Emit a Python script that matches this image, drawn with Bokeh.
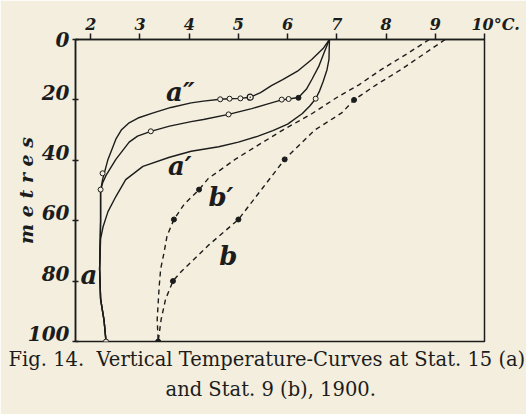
from bokeh.plotting import figure
from bokeh.models import Range1d, FixedTicker, LinearAxis, LabelSet, ColumnDataSource, Title
from bokeh.core.properties import value
from bokeh.embed import file_html
from bokeh.resources import INLINE

# ---------------- data (temperature °C, depth m) ----------------
x_ticks = [2, 3, 4, 5, 6, 7, 8, 9, 10]
x_tick_labels = ["2", "3", "4", "5", "6", "7", "8", "9", "\u00a0\u00a0\u00a0\u00a010°C."]
y_ticks = [0, 20, 40, 60, 80, 100]
y_tick_labels = ["0", "20", "40", "60", "80", "100"]

# Stat. 15 (a), three solid curves
a2_temp = [6.85, 6.72, 6.49, 6.2, 5.9, 5.67, 5.45, 5.24, 5.04, 4.82, 4.63, 4.29, 4.04, 3.63, 3.27,
           2.96, 2.78, 2.62, 2.51, 2.35, 2.24, 2.2, 2.2, 2.18, 2.2, 2.27, 2.31]
a2_depth = [0, 3, 6.6, 10.5, 13.3, 15.3, 17.6, 19.1, 19.5, 19.6, 19.8, 20.4, 21.0, 22.5, 24.3,
            26, 27.6, 30, 33, 39.7, 46.4, 50, 60, 76, 86, 93, 100]

a_temp = [6.85, 6.75, 6.63, 6.5, 6.38, 6.22, 6.02, 5.88, 5.6, 5.27, 4.8, 4.29, 4.04, 3.6, 3.22,
          2.95, 2.78, 2.51, 2.31, 2.24, 2.2, 2.2, 2.18, 2.2, 2.27, 2.31]
a_depth = [0, 4, 9, 13, 16.5, 19.2, 19.7, 20.0, 21.3, 22.9, 24.8, 26.5, 27.2, 28.7, 30.4,
           32, 34, 39.7, 45, 47.5, 50, 60, 76, 86, 93, 100]

a1_temp = [6.85, 6.84, 6.8, 6.72, 6.65, 6.57, 6.45, 6.3, 6.0, 5.7, 5.4, 5.0, 4.6, 4.04, 3.6,
           3.06, 2.71, 2.51, 2.35, 2.25, 2.2, 2.18, 2.2, 2.27, 2.31]
a1_depth = [0, 6.6, 10, 14, 17, 19.6, 22, 24.5, 28, 30.2, 32, 34, 35.5, 37, 39,
            42, 46.4, 52, 57, 62, 66, 76, 86, 93, 100]

# Stat. 9 (b), two dashed curves
b1_temp = [8.88, 8.4, 7.9, 7.45, 7.0, 6.5, 5.9, 5.4, 4.95, 4.65, 4.39, 4.2, 3.9, 3.69, 3.55,
           3.49, 3.42, 3.39, 3.35, 3.37]
b1_depth = [0, 5, 10, 15, 19.2, 24.5, 30, 35, 39.5, 43, 46, 49.7, 54.5, 59.6, 65,
            70.5, 76, 81.8, 92.7, 100]

b_temp = [9.2, 8.75, 8.3, 7.8, 7.35, 7.1, 6.55, 5.94, 5.5, 5.0, 4.4, 3.84, 3.67, 3.52, 3.43, 3.37]
b_depth = [0, 5, 10, 15, 20, 24.3, 30, 39.7, 49, 59.6, 68, 76.8, 80, 86, 92.7, 100]

# observation marks
open_temp = [4.63, 4.82, 5.04, 5.88, 6.02, 6.57, 4.8, 3.22, 2.24, 2.2, 2.31]
open_depth = [19.8, 19.6, 19.5, 19.9, 19.7, 19.6, 24.8, 30.4, 44.3, 49.7, 100]
ring_dot_temp = [5.24]
ring_dot_depth = [19.1]
dot_temp = [6.22, 7.35, 5.94, 5.0, 3.67, 3.37, 4.2, 3.69]
dot_depth = [19.3, 20, 39.7, 59.6, 80, 100, 49.7, 59.6]

curve_labels = ["a″", "a′", "b′", "b", "a"]
curve_label_temp = [3.53, 3.57, 4.39, 4.61, 1.79]
curve_label_depth = [20.2, 45.0, 55.0, 74.8, 80.8]

axis_title = "m e t r e s"
caption_1 = "Fig. 14.\u00a0 Vertical Temperature-Curves at Stat. 15 (a)"
caption_2 = "and Stat. 9 (b), 1900."

# ---------------- styling ----------------
paper = "#f3eedd"
ink = "#1c1c1c"
FONT = "DejaVu Serif"
LABEL_LIFT = 2.6  # depth labels sit just above their ticks (in metres)

p = figure(width=526, height=414, output_backend="svg", toolbar_location=None,
           x_range=Range1d(1.69, 10.0), y_range=Range1d(100, 0),
           x_axis_location="above",
           min_border_left=75, min_border_right=42, min_border_top=39, min_border_bottom=73)
p.extra_y_ranges = {"labels": Range1d(100 + LABEL_LIFT, LABEL_LIFT - 0.01)}
p.background_fill_color = paper
p.border_fill_color = paper
p.outline_line_color = ink
p.outline_line_width = 1.5
p.xgrid.visible = False
p.ygrid.visible = False

xa = p.xaxis[0]
xa.ticker = FixedTicker(ticks=x_ticks)
xa.major_label_overrides = {t: s for t, s in zip(x_ticks, x_tick_labels)}
xa.minor_tick_line_color = None
xa.major_tick_out = 6
xa.major_tick_in = 0
xa.major_label_standoff = 0
xa.axis_line_color = ink
xa.axis_line_width = 1.5
xa.major_tick_line_color = ink
xa.major_tick_line_width = 1.5
xa.major_label_text_font = FONT
xa.major_label_text_font_style = "bold italic"
xa.major_label_text_font_size = "16px"
xa.major_label_text_color = ink

# inner left axis: tick marks only
ya = p.yaxis[0]
ya.ticker = FixedTicker(ticks=y_ticks)
ya.major_label_overrides = {t: "" for t in y_ticks}
ya.minor_tick_line_color = None
ya.major_tick_out = 3
ya.major_tick_in = 3
ya.major_label_standoff = 0
ya.axis_line_color = ink
ya.axis_line_width = 1.5
ya.major_tick_line_color = ink
ya.major_tick_line_width = 1.5

# outer left axis: depth labels, lifted a little above the ticks
lab_ticks = [max(t, LABEL_LIFT) for t in y_ticks]
yl = LinearAxis(y_range_name="labels", ticker=FixedTicker(ticks=lab_ticks),
                major_label_overrides={lt: s for lt, s in zip(lab_ticks, y_tick_labels)},
                axis_line_color=None, major_tick_line_color=None, minor_tick_line_color=None,
                major_tick_out=0, major_tick_in=0, major_label_standoff=3,
                major_label_text_font=FONT, major_label_text_font_style="bold italic",
                major_label_text_font_size="20px", major_label_text_color=ink,
                axis_label=axis_title, axis_label_text_font=FONT,
                axis_label_text_font_style="bold italic", axis_label_text_font_size="19px",
                axis_label_text_color=ink, axis_label_standoff=-12)
p.add_layout(yl, "left")

# curves
for t, d in [(a2_temp, a2_depth), (a_temp, a_depth), (a1_temp, a1_depth)]:
    p.line(t, d, line_color=ink, line_width=1.4)
for t, d in [(b1_temp, b1_depth), (b_temp, b_depth)]:
    p.line(t, d, line_color=ink, line_width=1.4, line_dash="5 4")

p.scatter(open_temp, open_depth, marker="circle", size=5, fill_color=paper,
          line_color=ink, line_width=1)
p.scatter(ring_dot_temp, ring_dot_depth, marker="circle_dot", size=6, fill_color=paper,
          line_color=ink, line_width=1.2)
p.scatter(dot_temp, dot_depth, marker="circle", size=5, fill_color=ink, line_color=ink)

# curve labels
lab_src = ColumnDataSource(dict(x=curve_label_temp, y=curve_label_depth, text=curve_labels))
p.add_layout(LabelSet(x="x", y="y", text="text", source=lab_src,
                      text_font=value(FONT), text_font_style="bold italic",
                      text_font_size="26px", text_color=ink,
                      text_align="left", text_baseline="alphabetic"))

# caption
p.add_layout(Title(text=caption_1, align="left", offset=-67, standoff=9,
                   text_font=FONT, text_font_size="19.5px", text_font_style="normal",
                   text_color=ink), "below")
p.add_layout(Title(text=caption_2, align="left", offset=90, standoff=0,
                   text_font=FONT, text_font_size="19.5px", text_font_style="normal",
                   text_color=ink), "below")

open("out.html", "w").write(file_html(p, INLINE))
